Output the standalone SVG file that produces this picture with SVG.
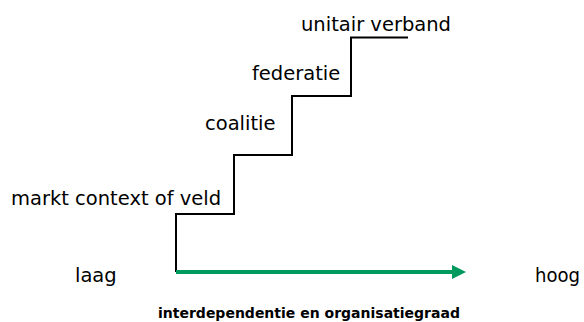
<svg xmlns="http://www.w3.org/2000/svg" width="584" height="322" viewBox="0 0 584 322">
<style>
text{font-family:"DejaVu Sans",sans-serif;font-size:19.5px;fill:#000}
.b{font-weight:bold;font-size:14px}
.stair{fill:none;stroke:#000;stroke-width:2}
</style>
<defs>
<marker id="ah" markerWidth="3.5" markerHeight="3.5" refX="0.5" refY="1.75" orient="auto" markerUnits="strokeWidth">
<path d="M0,0 L3.5,1.75 L0,3.5 Z" fill="#009a5e"/>
</marker>
</defs>
<rect width="584" height="322" fill="#fff"/>
<g id="connectors">
<path class="stair" d="M176,272 V214 H234 V155 H292 V96 H351 V37.5 H408"/>
<line x1="176" y1="272" x2="454" y2="272" stroke="#009a5e" stroke-width="4" marker-end="url(#ah)"/>
</g>
<g id="markt"><text x="11" y="205">markt context of veld</text></g>
<g id="coalitie"><text x="205" y="130">coalitie</text></g>
<g id="federatie"><text x="252" y="80">federatie</text></g>
<g id="unitair"><text x="301" y="31">unitair verband</text></g>
<g id="laag"><text x="75" y="282">laag</text></g>
<g id="hoog"><text x="535" y="282" textLength="45" lengthAdjust="spacingAndGlyphs">hoog</text></g>
<g id="axis"><text class="b" x="158" y="318">interdependentie en organisatiegraad</text></g>
</svg>
